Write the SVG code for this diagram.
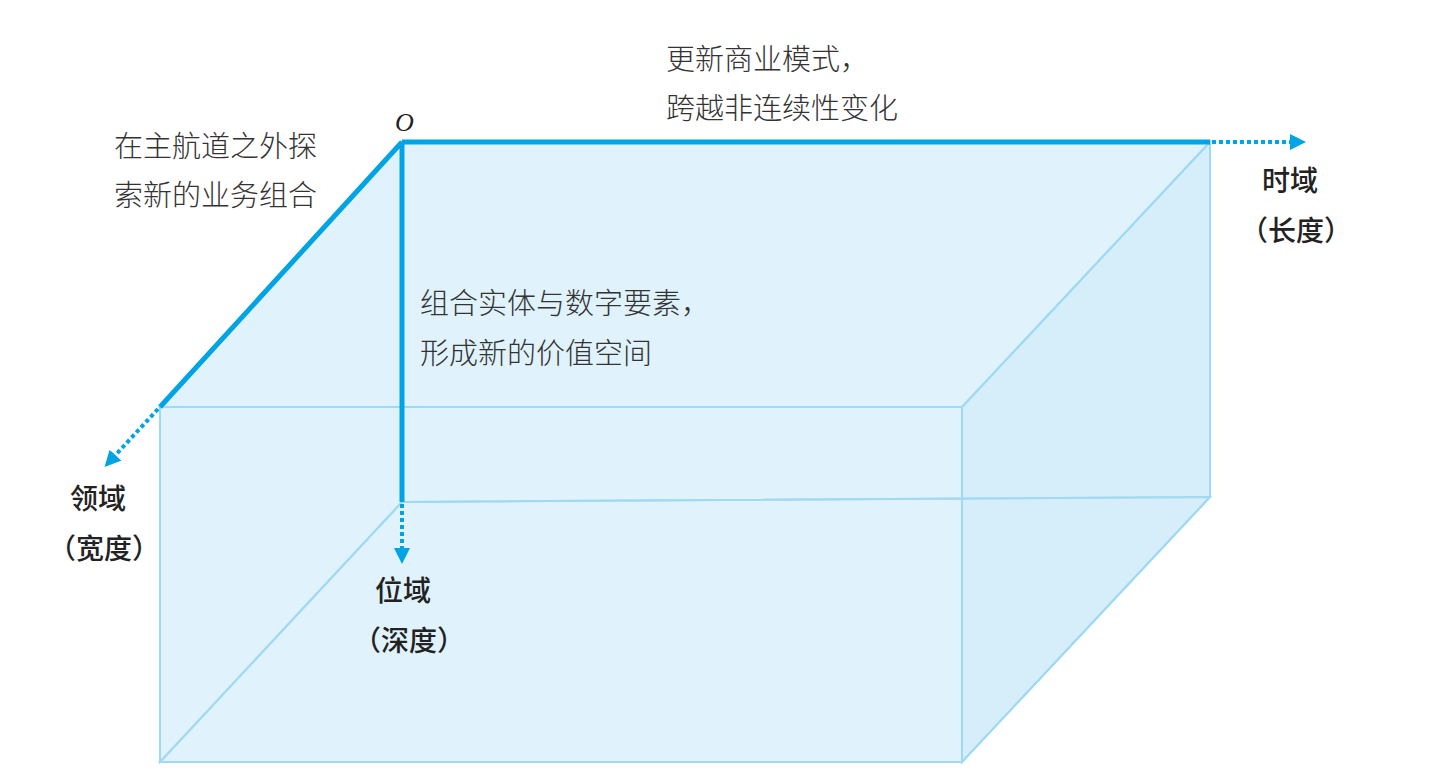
<svg xmlns="http://www.w3.org/2000/svg" width="1435" height="780" viewBox="0 0 1435 780">
<defs>
<style>
.face{fill:#a8dcf4;fill-opacity:0.2;stroke:#9fd9f3;stroke-width:2}
.axis{stroke:#00a3e4;stroke-width:5;fill:none}
.dot{stroke:#00a3e4;stroke-width:4;stroke-dasharray:4 3;fill:none}
.t{font-family:"Noto Sans CJK SC","Noto Sans",sans-serif;font-size:29px;fill:#333;font-weight:300}
.b{font-family:"Noto Sans CJK SC","Noto Sans",sans-serif;font-size:28px;fill:#222;font-weight:500}
</style>
<marker id="ar" viewBox="0 0 10 10" refX="5" refY="5" markerWidth="4" markerHeight="4" orient="auto" markerUnits="strokeWidth"><path d="M0,0 L10,5 L0,10 z" fill="#00a3e4"/></marker>
</defs>
<rect width="1435" height="780" fill="#fff"/>
<g id="box">
<polygon class="face" points="402,142 1210,142 1210,497 402,502"/>
<polygon class="face" points="402,142 160,407 160,762 402,502"/>
<polygon class="face" points="402,502 1210,497 962,762 160,762"/>
<polygon class="face" points="1210,142 962,407 962,762 1210,497" style="fill-opacity:0.35"/>
<polygon class="face" points="402,142 1210,142 962,407 160,407"/>
<polygon class="face" points="160,407 962,407 962,762 160,762"/>
</g>
<g id="connectors">
<path class="axis" d="M402,142 H1210 M402,142 L160,407 M402,142 V502"/>
<path class="dot" d="M1212,142 H1298" marker-end="url(#ar)"/>
<path class="dot" d="M158,409 L110,461" marker-end="url(#ar)"/>
<path class="dot" d="M402,504 V556" marker-end="url(#ar)"/>
</g>
<g id="labels">
<text x="395" y="131" font-family="Liberation Serif,serif" font-style="italic" font-size="26" fill="#222">O</text>
<text class="t" x="666" y="70">更新商业模式，</text>
<text class="t" x="666" y="119">跨越非连续性变化</text>
<text class="t" x="114" y="157">在主航道之外探</text>
<text class="t" x="114" y="206">索新的业务组合</text>
<text class="t" x="420" y="314">组合实体与数字要素，</text>
<text class="t" x="420" y="364">形成新的价值空间</text>
<text class="b" x="1262" y="191">时域</text>
<text class="b" x="1240" y="241">（长度）</text>
<text class="b" x="70" y="509">领域</text>
<text class="b" x="48" y="559">（宽度）</text>
<text class="b" x="375" y="601">位域</text>
<text class="b" x="353" y="651">（深度）</text>
</g>
</svg>
